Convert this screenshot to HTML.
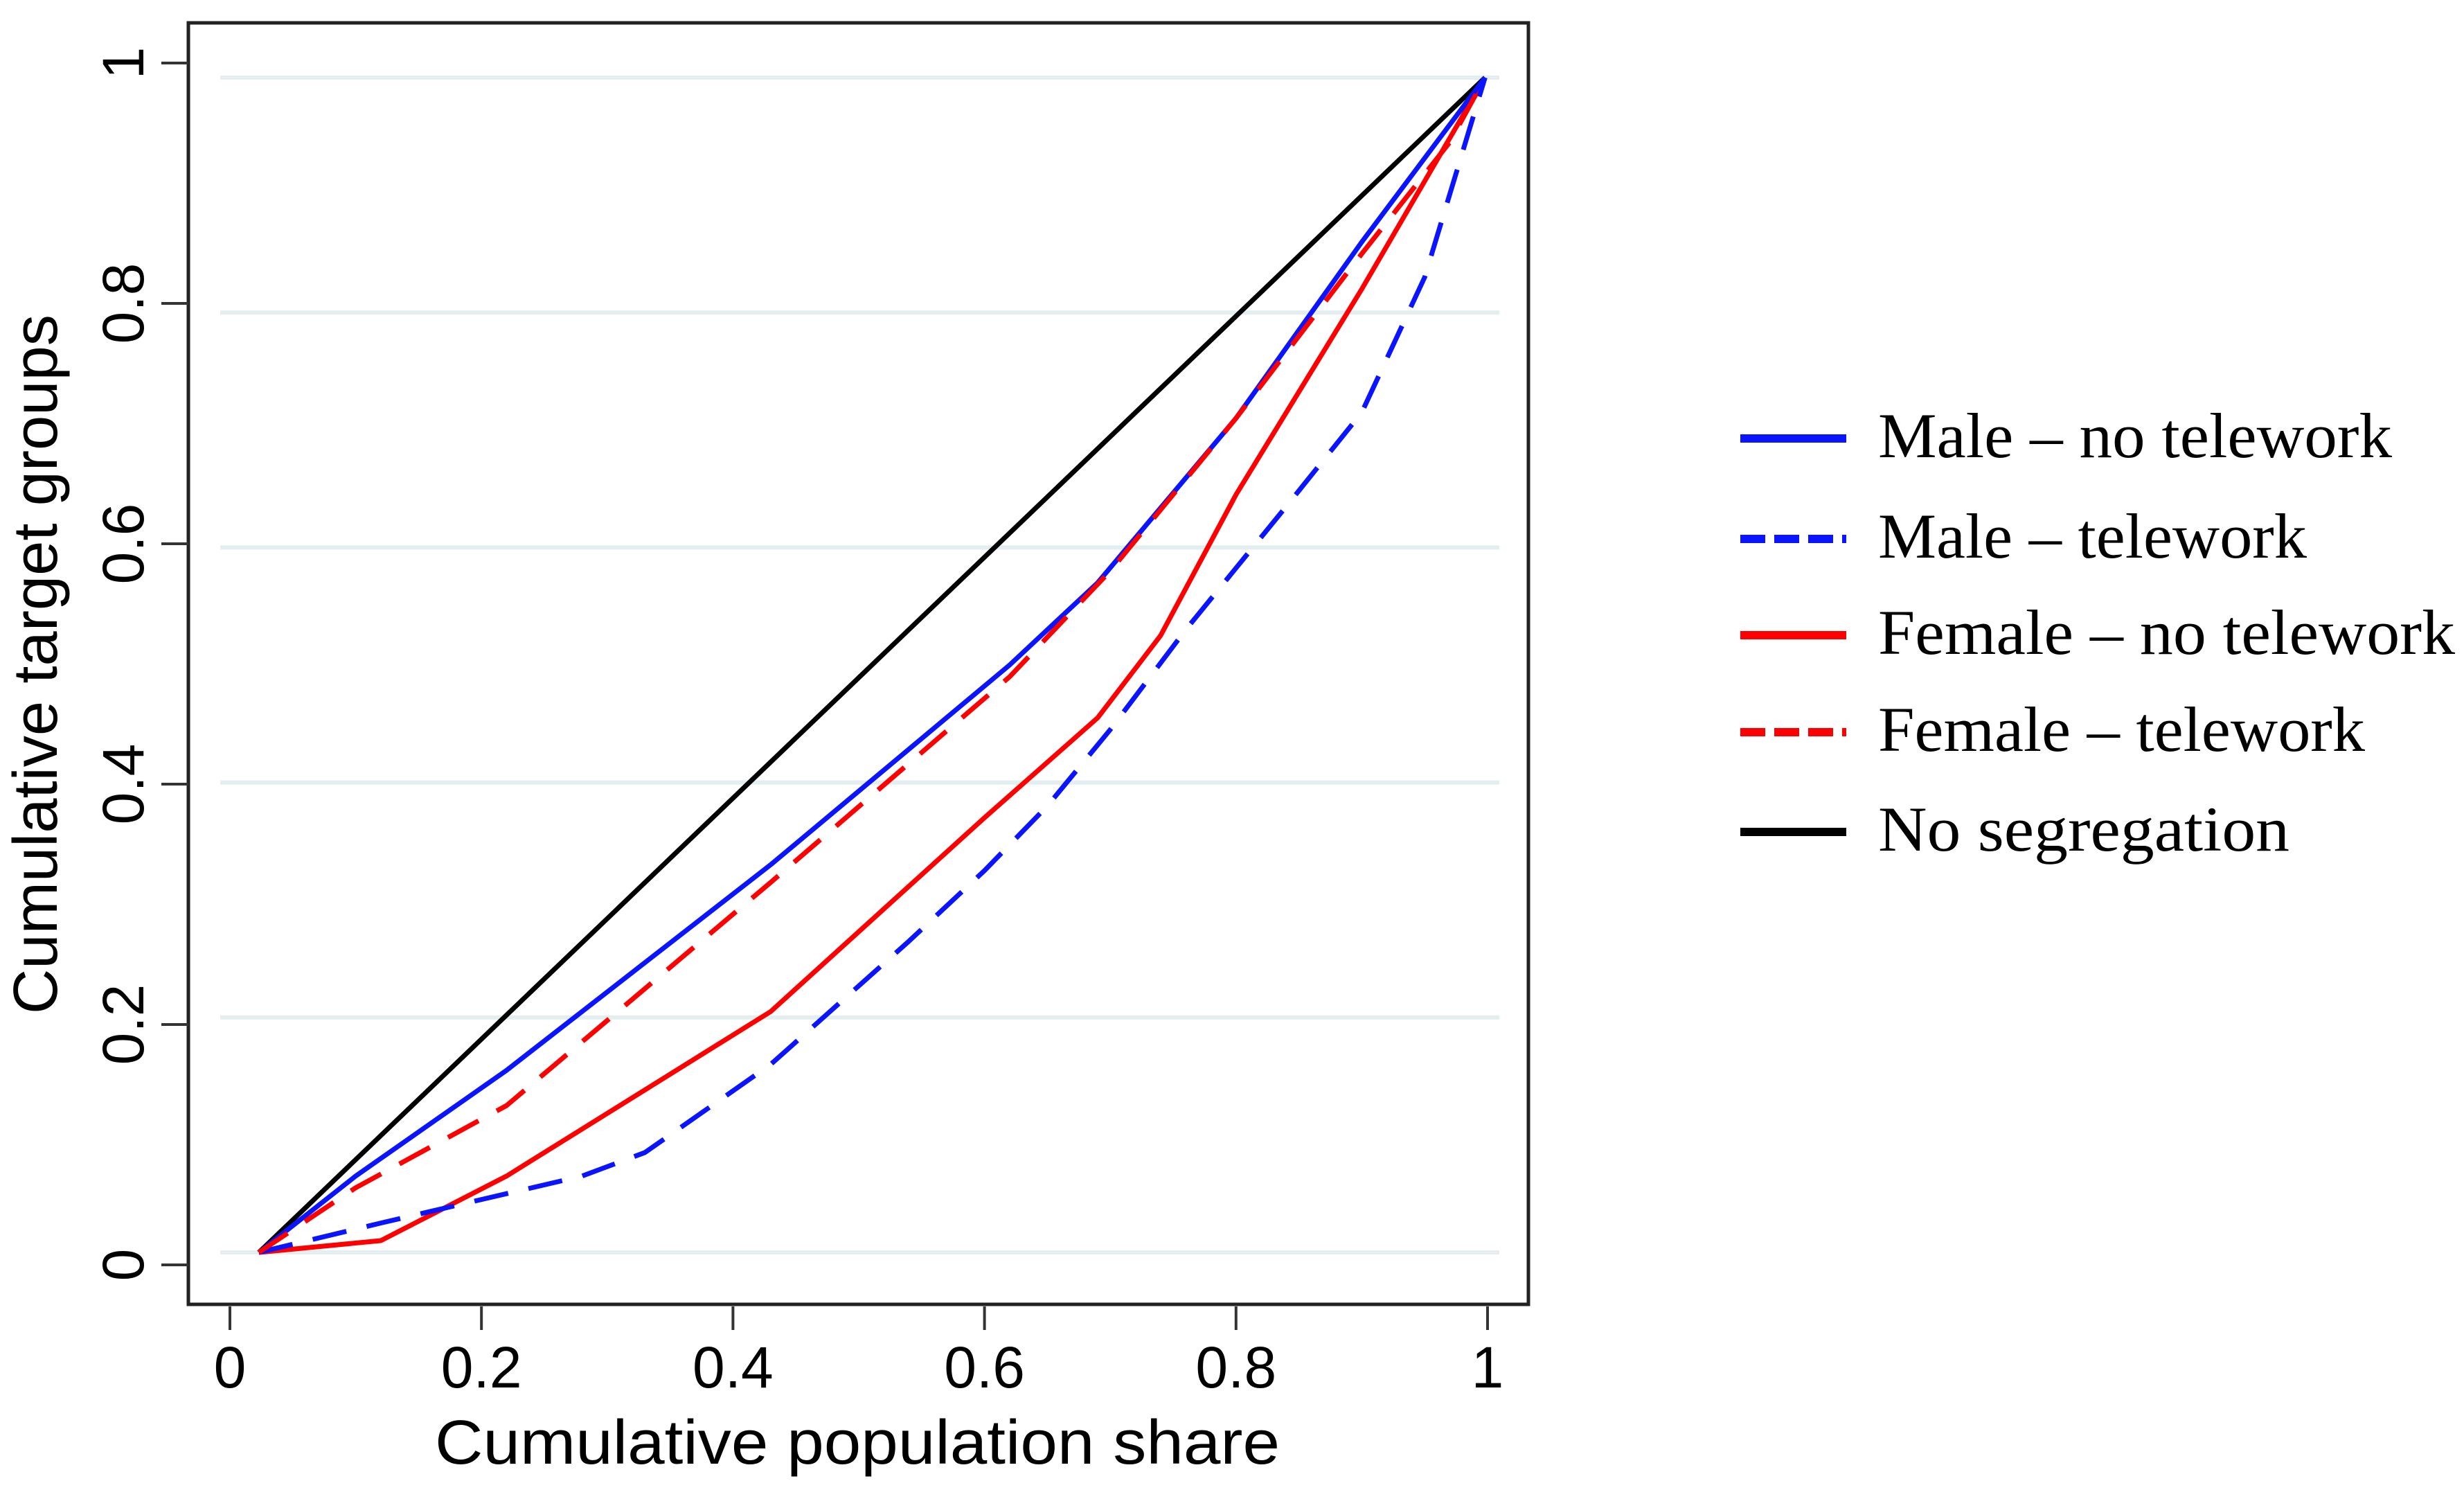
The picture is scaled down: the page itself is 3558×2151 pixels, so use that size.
<!DOCTYPE html>
<html><head><meta charset="utf-8"><style>html,body{margin:0;padding:0;background:#fff}svg{display:block}</style></head>
<body>
<svg id="chart" width="3558" height="2151" viewBox="0 0 3558 2151" xmlns="http://www.w3.org/2000/svg">
<rect width="3558" height="2151" fill="#fff"/>
<g id="grid"></g>
<g id="series"></g>
<rect x="272" y="33" width="1935" height="1850" fill="none" stroke="#222" stroke-width="5"/>
<g id="axes"></g>
<text x="1238" y="2113" font-family="Liberation Sans, sans-serif" font-size="90" text-anchor="middle" textLength="1220" lengthAdjust="spacingAndGlyphs">Cumulative population share</text>
<text transform="translate(82,959) rotate(-90)" font-family="Liberation Sans, sans-serif" font-size="90" text-anchor="middle" textLength="1010" lengthAdjust="spacingAndGlyphs">Cumulative target groups</text>
<g id="legend"></g>
</svg>
<script>
const xTicks = [0, 0.2, 0.4, 0.6, 0.8, 1];
const yTicks = [0, 0.2, 0.4, 0.6, 0.8, 1];
const tickLabels = ["0", "0.2", "0.4", "0.6", "0.8", "1"];
const seriesNames = ["Male – no telework", "Male – telework", "Female – no telework", "Female – telework", "No segregation"];
const maleNoX = [0.023, 0.1, 0.22, 0.43, 0.62, 0.69, 0.8, 0.9, 0.998];
const maleNoY = [0.0, 0.065, 0.155, 0.33, 0.5, 0.57, 0.71, 0.86, 1.0];
const maleTeleX = [0.023, 0.12, 0.22, 0.28, 0.33, 0.43, 0.54, 0.6, 0.65, 0.7, 0.76, 0.84, 0.9, 0.95, 0.998];
const maleTeleY = [0.0, 0.025, 0.05, 0.065, 0.085, 0.16, 0.265, 0.325, 0.38, 0.445, 0.53, 0.635, 0.715, 0.83, 1.0];
const femNoX = [0.023, 0.12, 0.22, 0.43, 0.6, 0.69, 0.74, 0.8, 0.9, 0.998];
const femNoY = [0.0, 0.01, 0.065, 0.205, 0.37, 0.455, 0.525, 0.645, 0.82, 1.0];
const femTeleX = [0.023, 0.1, 0.22, 0.43, 0.62, 0.7, 0.8, 0.9, 0.97, 0.998];
const femTeleY = [0.0, 0.055, 0.125, 0.315, 0.49, 0.58, 0.71, 0.85, 0.945, 1.0];
const noSegX = [0.023, 0.998];
const noSegY = [0.0, 1.0];

const NS = "http://www.w3.org/2000/svg";
function xs(v){ return 332 + 1816 * v; }
function ys(v){ return 1808 - 1696 * v; }
function yt(v){ return 1826 - 1735 * v; }
function mk(tag, attrs, parent){ const e = document.createElementNS(NS, tag); for (const k in attrs) e.setAttribute(k, attrs[k]); parent.appendChild(e); return e; }

const grid = document.getElementById('grid');
yTicks.forEach(function(v){
  const l = mk('line', {x1:318, x2:2165, y1:ys(v), y2:ys(v), stroke:'#e2eef0', 'stroke-width':6}, grid);
  
  
});

const axes = document.getElementById('axes');
xTicks.forEach(function(v, i){
  const t = mk('line', {x1:xs(v), x2:xs(v), y1:1886, y2:1920, stroke:'#333', 'stroke-width':4}, axes);
  
  
  const lb = mk('text', {x:xs(v), y:2003, 'font-family':'Liberation Sans, sans-serif', 'font-size':84, 'text-anchor':'middle'}, axes);
  lb.textContent = tickLabels[i];
  
  
});
yTicks.forEach(function(v, i){
  const t = mk('line', {x1:233, x2:272, y1:yt(v), y2:yt(v), stroke:'#333', 'stroke-width':4}, axes);
  
  
  const lb = mk('text', {transform:'translate(207,' + yt(v) + ') rotate(-90)', 'font-family':'Liberation Sans, sans-serif', 'font-size':84, 'text-anchor':'middle'}, axes);
  lb.textContent = tickLabels[i];
  
  
});

const seriesG = document.getElementById('series');
const defs = [
  {name:'line-no-segregation', xv:noSegX, yv:noSegY, color:'#000', dash:''},
  {name:'line-female-no-telework', xv:femNoX, yv:femNoY, color:'#ff0000', dash:''},
  {name:'line-male-telework', xv:maleTeleX, yv:maleTeleY, color:'#0a14ff', dash:'50 30'},
  {name:'line-male-no-telework', xv:maleNoX, yv:maleNoY, color:'#0a14ff', dash:''},
  {name:'line-female-telework', xv:femTeleX, yv:femTeleY, color:'#ff0000', dash:'50 30'}
];
defs.forEach(function(d){
  const pts = d.xv.map(function(x, i){ return xs(x).toFixed(1) + ',' + ys(d.yv[i]).toFixed(1); }).join(' ');
  const p = mk('polyline', {points:pts, fill:'none', stroke:d.color, 'stroke-width':7, 'stroke-linejoin':'round'}, seriesG);
  if (d.dash) p.setAttribute('stroke-dasharray', d.dash);
  
  
});

const legend = document.getElementById('legend');
const legColors = ['#0a14ff', '#0a14ff', '#ff0000', '#ff0000', '#000'];
const legDash = ['', '36 13', '', '36 13', ''];
const legY = [633, 778, 917, 1057, 1201];
const legW = [742, 619, 833, 703, 594];
seriesNames.forEach(function(n, i){
  const g = mk('g', {}, legend);
  
  
  const l = mk('line', {x1:2513, x2:2666, y1:legY[i], y2:legY[i], stroke:legColors[i], 'stroke-width':12}, g);
  if (legDash[i]) l.setAttribute('stroke-dasharray', legDash[i]);
  
  
  const t = mk('text', {x:2712, y:legY[i] + 27, 'font-family':'Liberation Serif, serif', 'font-size':92, textLength:legW[i], lengthAdjust:'spacingAndGlyphs'}, g);
  t.textContent = n;
  
  
});
</script>
</body></html>
